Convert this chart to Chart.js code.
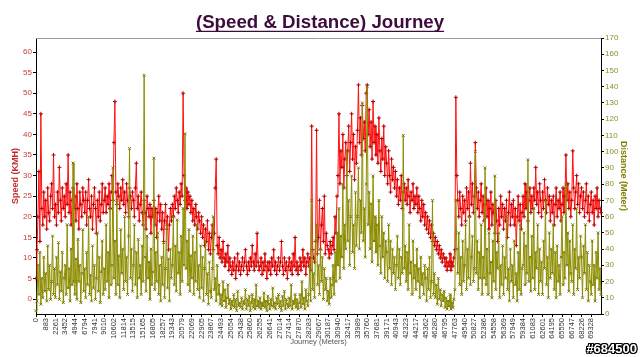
<!DOCTYPE html>
<html><head><meta charset="utf-8">
<script src="https://cdn.jsdelivr.net/npm/chart.js@4"></script>
<style>
html,body{margin:0;padding:0;background:#fff;}
#wrap{position:relative;width:640px;height:357px;}
#wm{position:absolute;right:3px;bottom:1px;font:bold 13px "Liberation Sans",Arial,sans-serif;color:#fff;
text-shadow:-1px 0 #000,1px 0 #000,0 -1px #000,0 1px #000,-1px -1px #000,1px 1px #000,-1px 1px #000,1px -1px #000;}
</style></head><body>
<div id="wrap"><canvas id="c" width="640" height="357"></canvas><div id="wm">#684500</div></div>
<script>
const TITLE = '(Speed & Distance) Journey';
const tickLabels = ['0','883','2261','3452','4944','6794','7941','9010','10602','11814','13515','15165','16805','18257','19343','20579','22069','22905','23867','24493','25054','25438','25860','26255','26641','27014','27414','27870','28283','29067','30187','30940','32417','33989','35760','37681','39171','40943','42323','44217','45362','46280','46795','47763','49540','50827','52386','54558','56369','57949','59384','61083','62601','64195','65550','66747','68226','69328'];
const speed = [
5,12,20,31,14,45,22,18,26,20,
24,17,27,21,19,25,28,22,35,20,
23,18,26,21,32,24,19,27,22,25,
20,28,23,35,21,26,18,24,27,22,
25,19,28,22,17,26,23,20,27,24,
21,26,18,24,29,22,20,25,17,23,
27,22,16,24,20,26,19,23,28,21,
24,27,21,25,23,28,22,26,30,24,
38,48,26,23,28,25,22,27,24,29,
23,26,21,28,24,20,27,25,22,26,
24,20,27,33,22,25,19,23,26,21,
18,24,21,17,25,22,20,23,16,22,
20,24,18,22,15,21,25,19,23,17,
21,14,19,23,17,20,12,18,22,19,
23,20,25,22,27,24,21,26,23,28,
25,50,30,24,27,22,26,23,25,21,
24,19,22,18,23,20,17,21,19,16,
20,15,18,13,17,14,19,12,16,11,
15,18,12,16,27,34,13,11,15,10,
12,9,14,10,8,11,9,13,7,10,
8,6,9,7,10,5,8,11,7,9,
6,8,10,7,9,12,8,6,9,7,
10,8,13,9,7,11,8,16,9,7,
8,10,6,9,7,11,8,5,9,7,
9,6,10,8,12,7,9,6,8,10,
7,9,14,8,6,10,7,9,5,8,
10,7,9,6,11,8,15,7,9,6,
8,10,7,9,12,8,10,6,9,11,
8,10,7,42,12,10,9,14,41,11,
15,24,12,18,22,14,25,11,16,13,
12,10,14,11,13,15,12,20,16,25,
30,45,28,36,32,40,27,34,38,30,
36,42,31,38,45,34,40,29,37,33,
41,52,38,44,35,47,39,43,36,50,
52,40,46,37,43,34,48,38,42,35,
40,33,44,36,31,39,34,42,30,37,
33,28,36,30,26,34,29,32,27,31,
25,29,23,27,24,30,22,26,28,24,
27,23,29,25,21,26,24,28,22,25,
23,27,21,25,22,19,24,20,23,18,
21,17,20,16,19,15,18,14,16,13,
15,12,14,11,13,10,12,9,11,10,
8,10,7,9,8,11,7,9,8,10,
12,49,30,24,20,26,22,18,25,21,
24,19,27,22,26,20,33,23,28,21,
25,38,27,22,26,20,24,28,21,25,
19,23,27,20,24,17,22,26,18,23,
21,16,24,19,14,22,18,25,20,23,
17,22,19,24,15,21,26,18,23,20,
24,18,22,13,20,25,19,23,17,21,
25,20,28,22,26,19,24,27,21,25,
22,27,24,32,23,26,21,28,24,20,
26,22,29,24,21,27,23,25,19,24,
21,25,18,23,27,20,24,22,26,19,
23,27,21,25,35,24,28,22,26,20,
24,36,27,22,26,30,23,28,21,25,
27,22,26,20,24,28,21,25,19,23,
26,21,24,18,25,22,27,20,24,22,
21];
const distance = [
2,8,30,12,38,6,22,10,35,14,
25,8,42,15,30,9,20,48,12,28,
10,35,18,44,9,26,14,38,7,22,
30,12,55,16,28,8,40,18,93,20,
12,34,9,46,20,30,7,25,52,14,
28,10,38,18,60,12,24,8,42,16,
30,9,22,50,14,35,7,26,45,12,
28,15,55,20,38,10,65,18,30,90,
22,45,12,70,18,36,10,52,25,40,
15,60,20,35,12,48,102,22,40,14,
30,55,18,38,10,46,22,30,12,42,
20,147,35,14,48,22,32,9,40,18,
26,96,15,38,20,50,12,30,8,35,
18,44,10,28,55,16,34,8,40,22,
30,60,18,42,14,58,25,38,12,48,
20,65,30,111,28,45,18,52,14,36,
22,48,12,38,20,55,15,30,10,42,
16,35,8,28,45,12,25,6,32,14,
10,28,60,15,22,8,30,12,18,6,
12,5,20,8,15,4,10,18,6,9,
3,8,5,12,4,9,2,14,5,7,
4,10,3,8,6,15,3,9,5,11,
2,7,12,4,9,3,18,5,8,4,
10,3,7,5,13,4,8,2,11,6,
3,9,5,16,4,7,3,10,6,12,
4,8,2,11,5,14,3,9,6,4,
10,5,18,3,8,6,12,4,9,3,
7,12,4,20,6,10,3,15,8,5,
12,30,8,70,15,25,10,45,55,18,
30,12,40,20,35,9,28,15,22,8,
14,6,22,10,18,30,12,38,20,50,
30,65,22,48,35,80,28,55,40,100,
45,70,30,60,85,38,55,28,75,42,
60,90,40,70,50,130,45,65,35,80,
140,55,75,40,68,32,85,45,60,38,
55,30,70,42,25,60,35,50,22,45,
38,20,55,28,45,18,40,25,35,15,
30,48,22,40,18,35,25,110,28,42,
20,38,15,55,25,32,12,45,22,30,
15,40,20,28,10,35,18,25,12,30,
22,8,28,15,35,10,20,70,12,25,
10,18,6,22,9,15,5,12,8,14,
4,10,3,8,5,12,3,7,4,9,
15,70,40,25,50,18,35,12,45,20,
30,55,15,40,22,60,18,35,48,20,
28,100,25,45,15,38,22,55,12,35,
22,90,18,40,12,50,25,32,10,45,
20,85,15,38,28,50,10,30,18,42,
12,35,22,60,15,28,8,40,20,30,
10,45,18,25,8,38,15,55,12,28,
30,50,18,42,25,95,20,35,14,48,
22,65,15,38,28,55,12,40,20,32,
12,45,28,70,18,35,10,50,22,40,
25,55,15,38,10,42,20,30,12,35,
60,18,38,22,80,30,50,14,45,25,
20,55,12,40,28,65,15,35,22,48,
35,10,42,25,55,15,38,8,30,20,
12,45,18,30,8,38,22,50,15,28,
12];
const PER_TICK = 10;
const categories = speed.map((_, i) => (i % PER_TICK === 0 && tickLabels[i / PER_TICK] !== undefined) ? tickLabels[i / PER_TICK] : '');

const FONT = '"Liberation Sans", Arial, sans-serif';
const TITLE_SIZE = 18.7, TITLE_PAD_TOP = 14;

const framePlugin = {
  id: 'frame',
  afterDraw(chart) {
    const {ctx, chartArea: a} = chart;
    ctx.save();
    ctx.strokeStyle = '#9a9a9a';
    ctx.lineWidth = 1;
    ctx.beginPath();
    ctx.moveTo(a.left, a.top + 0.5);
    ctx.lineTo(a.right, a.top + 0.5);
    ctx.stroke();
    const t = chart.titleBlock;
    ctx.font = 'bold ' + TITLE_SIZE + 'px ' + FONT;
    const w = ctx.measureText(TITLE).width;
    const cx = (t.left + t.right) / 2;
    const y = t.top + TITLE_PAD_TOP + TITLE_SIZE / 2 + 8;
    ctx.strokeStyle = '#3d0c3d';
    ctx.lineWidth = 1.4;
    ctx.beginPath();
    ctx.moveTo(cx - w / 2, y);
    ctx.lineTo(cx + w / 2, y);
    ctx.stroke();
    ctx.restore();
  }
};

new Chart(document.getElementById('c'), {
  type: 'line',
  data: {
    labels: categories,
    datasets: [
      {label: 'Speed (KMH)', data: speed, yAxisID: 'ySpeed', order: 2,
       borderColor: '#ff1010', borderWidth: 1, tension: 0,
       pointStyle: 'cross', pointRadius: 2, pointBorderColor: '#b00000', pointBorderWidth: 1, pointBackgroundColor: '#b00000'},
      {label: 'Distance (Meter)', data: distance, yAxisID: 'yDist', order: 1,
       borderColor: '#8c8c00', borderWidth: 1, tension: 0,
       pointStyle: 'crossRot', pointRadius: 2, pointBorderColor: '#7a7a00', pointBorderWidth: 1, pointBackgroundColor: '#7a7a00'}
    ]
  },
  options: {
    responsive: false,
    animation: false,
    layout: {padding: 0},
    plugins: {
      legend: {display: false},
      tooltip: {enabled: false},
      title: {display: true, text: TITLE, color: '#3d0c3d',
        font: {family: FONT, size: TITLE_SIZE, weight: 'bold', lineHeight: 1},
        padding: {top: TITLE_PAD_TOP, bottom: 38 - TITLE_PAD_TOP - TITLE_SIZE}}
    },
    scales: {
      x: {
        type: 'category', offset: false,
        grid: {drawOnChartArea: false, tickLength: 3,
          color: (c) => (categories[c.index] !== '' && categories[c.index] !== undefined) ? '#000' : 'rgba(0,0,0,0)'},
        border: {color: '#000', width: 1},
        ticks: {autoSkip: false, maxRotation: 90, minRotation: 90, padding: 1,
          font: {family: FONT, size: 7.5}, color: '#333'},
        title: {display: true, text: 'Journey (Meters)', color: '#555',
          font: {family: FONT, size: 7.5, lineHeight: 1.2}, padding: {top: 0, bottom: 10.5}},
        afterFit: (s) => { s.height = 43; }
      },
      ySpeed: {
        position: 'left', min: -3.6, max: 63.4,
        grid: {drawOnChartArea: false, tickLength: 3, color: '#000'},
        border: {color: '#000', width: 1},
        ticks: {stepSize: 5, includeBounds: false, padding: 1,
          font: {family: FONT, size: 8}, color: '#cc3b3b',
          callback: (v) => (v >= 0 && v % 5 === 0) ? String(v) : null},
        title: {display: true, text: 'Speed (KMH)', color: '#c42a2a',
          font: {family: FONT, size: 9, weight: 'bold', lineHeight: 1.2}, padding: {top: 10, bottom: 0}},
        afterFit: (s) => { s.width = 36; }
      },
      yDist: {
        position: 'right', min: 0, max: 170,
        grid: {drawOnChartArea: false, tickLength: 3, color: '#000'},
        border: {color: '#000', width: 1},
        ticks: {stepSize: 10, padding: 1,
          font: {family: FONT, size: 8}, color: '#8f8f2a'},
        title: {display: true, text: 'Distance (Meter)', color: '#808000',
          font: {family: FONT, size: 9, weight: 'bold', lineHeight: 1.2}, padding: {top: 11, bottom: 0}},
        afterFit: (s) => { s.width = 39; }
      }
    }
  },
  plugins: [framePlugin]
});
</script>
</body></html>
